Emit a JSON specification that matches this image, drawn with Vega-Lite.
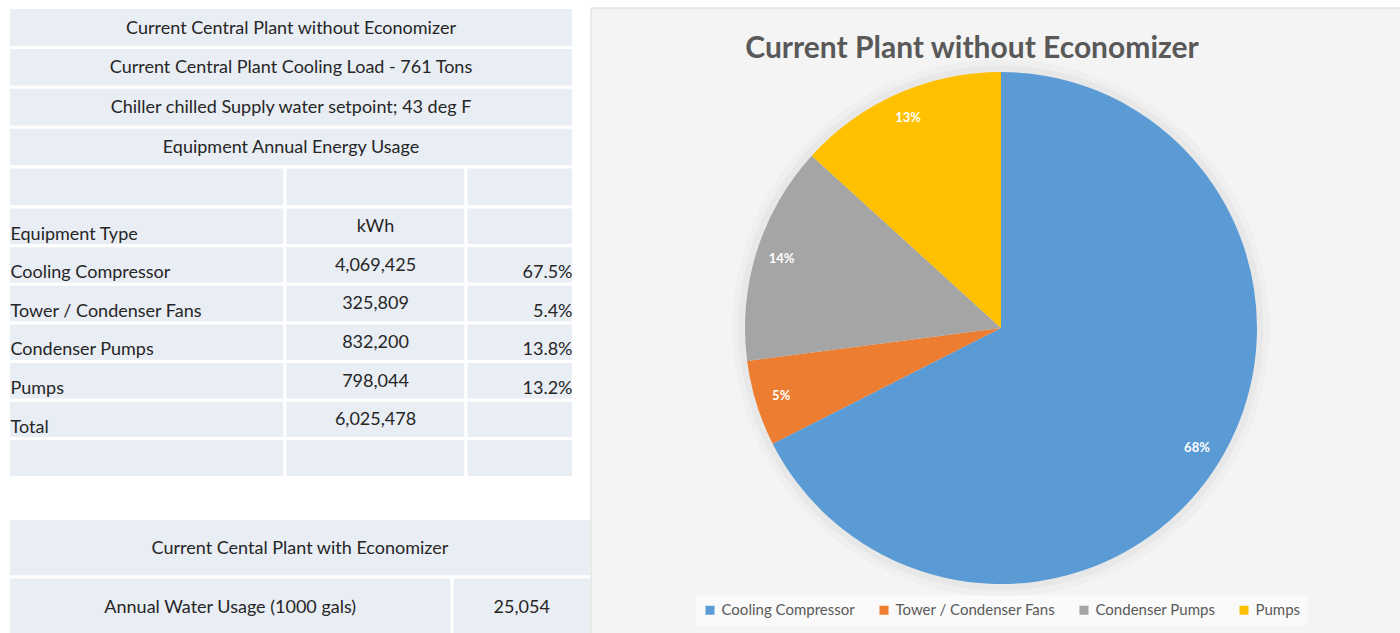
{
  "$schema": "https://vega.github.io/schema/vega-lite/v6.json",
  "padding": {"left": 6.5, "top": 5.5, "right": 0, "bottom": 0},
  "spacing": 17,
  "bounds": "flush",
  "background": "white",
  "config": {
    "view": {"stroke": null},
    "font": "Lato",
    "legend": {"layout": {"bottom": {"anchor": "middle"}}}
  },
  "datasets": {
    "header": [
      {"row": 0, "rowEnd": 1, "text": "Current Central Plant without Economizer"},
      {"row": 1, "rowEnd": 2, "text": "Current Central Plant Cooling Load - 761 Tons"},
      {"row": 2, "rowEnd": 3, "text": "Chiller chilled Supply water setpoint; 43 deg F"},
      {"row": 3, "rowEnd": 4, "text": "Equipment Annual Energy Usage"}
    ],
    "grid": [
      {"row": 4, "rowEnd": 5, "c0": 0, "c1": 1, "text": ""},
      {"row": 4, "rowEnd": 5, "c0": 1, "c1": 2, "text": ""},
      {"row": 4, "rowEnd": 5, "c0": 2, "c1": 3, "text": ""},
      {"row": 5, "rowEnd": 6, "c0": 0, "c1": 1, "text": "Equipment Type"},
      {"row": 5, "rowEnd": 6, "c0": 1, "c1": 2, "text": "kWh"},
      {"row": 5, "rowEnd": 6, "c0": 2, "c1": 3, "text": ""},
      {"row": 6, "rowEnd": 7, "c0": 0, "c1": 1, "text": "Cooling Compressor"},
      {"row": 6, "rowEnd": 7, "c0": 1, "c1": 2, "text": "4,069,425"},
      {"row": 6, "rowEnd": 7, "c0": 2, "c1": 3, "text": "67.5%"},
      {"row": 7, "rowEnd": 8, "c0": 0, "c1": 1, "text": "Tower / Condenser Fans"},
      {"row": 7, "rowEnd": 8, "c0": 1, "c1": 2, "text": "325,809"},
      {"row": 7, "rowEnd": 8, "c0": 2, "c1": 3, "text": "5.4%"},
      {"row": 8, "rowEnd": 9, "c0": 0, "c1": 1, "text": "Condenser Pumps"},
      {"row": 8, "rowEnd": 9, "c0": 1, "c1": 2, "text": "832,200"},
      {"row": 8, "rowEnd": 9, "c0": 2, "c1": 3, "text": "13.8%"},
      {"row": 9, "rowEnd": 10, "c0": 0, "c1": 1, "text": "Pumps"},
      {"row": 9, "rowEnd": 10, "c0": 1, "c1": 2, "text": "798,044"},
      {"row": 9, "rowEnd": 10, "c0": 2, "c1": 3, "text": "13.2%"},
      {"row": 10, "rowEnd": 11, "c0": 0, "c1": 1, "text": "Total"},
      {"row": 10, "rowEnd": 11, "c0": 1, "c1": 2, "text": "6,025,478"},
      {"row": 10, "rowEnd": 11, "c0": 2, "c1": 3, "text": ""},
      {"row": 11, "rowEnd": 12, "c0": 0, "c1": 1, "text": ""},
      {"row": 11, "rowEnd": 12, "c0": 1, "c1": 2, "text": ""},
      {"row": 11, "rowEnd": 12, "c0": 2, "c1": 3, "text": ""}
    ],
    "lowerHeader": [
      {"row": 13, "rowEnd": 14, "text": "Current Cental Plant with Economizer"}
    ],
    "lowerRow": [
      {"row": 14, "rowEnd": 15, "c0": 0, "c1": 1, "text": "Annual Water Usage (1000 gals)"},
      {"row": 14, "rowEnd": 15, "c0": 1, "c1": 2, "text": "25,054"}
    ],
    "equipment": [
      {"idx": 0, "name": "Cooling Compressor", "kwh": 4069425, "share": 0.675},
      {"idx": 1, "name": "Tower / Condenser Fans", "kwh": 325809, "share": 0.054},
      {"idx": 2, "name": "Condenser Pumps", "kwh": 832200, "share": 0.138},
      {"idx": 3, "name": "Pumps", "kwh": 798044, "share": 0.132}
    ]
  },
  "resolve": {"scale": {"color": "independent"}, "legend": {"color": "independent"}},
  "hconcat": [
    {
      "width": 565,
      "height": 628,
      "resolve": {"scale": {"x": "independent"}},
      "layer": [
        {
          "data": {"name": "header"},
          "encoding": {
            "y": {"field": "row", "type": "quantitative", "scale": {"domain": [0, 5, 12, 13, 15], "range": [0, 199.5, 470, 511, 628], "nice": false, "zero": false}, "axis": null}
          },
          "layer": [
            {"mark": {"type": "rect", "fill": "#E9EDF4", "stroke": "white", "strokeWidth": 3},
             "encoding": {"y2": {"field": "rowEnd"}}},
            {"mark": {"type": "text", "baseline": "middle", "align": "center", "dy": 21, "fontSize": 18, "fill": "#262626"},
             "encoding": {"text": {"field": "text"}}}
          ]
        },
        {
          "data": {"name": "grid"},
          "encoding": {
            "y": {"field": "row", "type": "quantitative", "scale": {"domain": [0, 5, 12, 13, 15], "range": [0, 199.5, 470, 511, 628], "nice": false, "zero": false}, "axis": null}
          },
          "layer": [
            {"mark": {"type": "rect", "fill": "#E9EDF4", "stroke": "white", "strokeWidth": 3},
             "encoding": {
               "x": {"field": "c0", "type": "quantitative", "scale": {"domain": [0, 1, 2, 3], "range": [0, 276.5, 457.5, 565], "nice": false, "zero": false}, "axis": null},
               "x2": {"field": "c1"},
               "y2": {"field": "rowEnd"}}},
            {"transform": [{"filter": "datum.c0 == 0"}],
             "mark": {"type": "text", "baseline": "middle", "align": "left", "dx": 2, "dy": 27.5, "fontSize": 18, "fill": "#262626"},
             "encoding": {
               "x": {"field": "c0", "type": "quantitative"},
               "text": {"field": "text"}}},
            {"transform": [{"filter": "datum.c0 == 1"}],
             "mark": {"type": "text", "baseline": "middle", "align": "center", "dy": 20, "fontSize": 18, "fill": "#262626"},
             "encoding": {
               "x": {"datum": 1.5, "type": "quantitative"},
               "text": {"field": "text"}}},
            {"transform": [{"filter": "datum.c0 == 2"}],
             "mark": {"type": "text", "baseline": "middle", "align": "right", "dx": -1, "dy": 27.5, "fontSize": 18, "fill": "#262626"},
             "encoding": {
               "x": {"field": "c1", "type": "quantitative"},
               "text": {"field": "text"}}}
          ]
        },
        {
          "data": {"name": "lowerHeader"},
          "encoding": {
            "y": {"field": "row", "type": "quantitative", "scale": {"domain": [0, 5, 12, 13, 15], "range": [0, 199.5, 470, 511, 628], "nice": false, "zero": false}, "axis": null}
          },
          "layer": [
            {"mark": {"type": "rect", "fill": "#E9EDF4", "stroke": "white", "strokeWidth": 3},
             "encoding": {
               "x": {"datum": 0, "type": "quantitative", "scale": {"domain": [0, 1], "range": [0, 583], "nice": false, "zero": false}, "axis": null},
               "x2": {"datum": 1},
               "y2": {"field": "rowEnd"}}},
            {"mark": {"type": "text", "baseline": "middle", "align": "center", "dy": 30, "fontSize": 18, "fill": "#262626"},
             "encoding": {
               "x": {"datum": 0.5, "type": "quantitative"},
               "text": {"field": "text"}}}
          ]
        },
        {
          "data": {"name": "lowerRow"},
          "encoding": {
            "y": {"field": "row", "type": "quantitative", "scale": {"domain": [0, 5, 12, 13, 15], "range": [0, 199.5, 470, 511, 628], "nice": false, "zero": false}, "axis": null}
          },
          "layer": [
            {"mark": {"type": "rect", "fill": "#E9EDF4", "stroke": "white", "strokeWidth": 3},
             "encoding": {
               "x": {"field": "c0", "type": "quantitative", "scale": {"domain": [0, 1, 2], "range": [0, 443.5, 583], "nice": false, "zero": false}, "axis": null},
               "x2": {"field": "c1"},
               "y2": {"field": "rowEnd"}}},
            {"transform": [{"filter": "datum.c0 == 0"}],
             "mark": {"type": "text", "baseline": "middle", "align": "center", "dy": 30.5, "fontSize": 18, "fill": "#262626"},
             "encoding": {
               "x": {"datum": 0.5, "type": "quantitative"},
               "text": {"field": "text"}}},
            {"transform": [{"filter": "datum.c0 == 1"}],
             "mark": {"type": "text", "baseline": "middle", "align": "center", "dy": 30.5, "fontSize": 18, "fill": "#262626"},
             "encoding": {
               "x": {"datum": 1.5, "type": "quantitative"},
               "text": {"field": "text"}}}
          ]
        }
      ]
    },
    {
      "width": 821,
      "height": 641,
      "view": {"fill": "#f4f4f4", "stroke": "#d9d9d9"},
      "title": {"text": "Current Plant without Economizer", "fontSize": 30, "fontWeight": "bold", "color": "#595959", "font": "Lato", "anchor": "middle", "offset": -56, "dx": -29},
      "data": {"name": "equipment"},
      "encoding": {
        "theta": {"field": "kwh", "type": "quantitative", "stack": true},
        "order": {"field": "idx", "type": "quantitative"}
      },
      "layer": [
        {"mark": {"type": "arc", "outerRadius": 268, "fill": "#efefef", "stroke": "#efefef"}},
        {"mark": {"type": "arc", "outerRadius": 262, "fill": "#e8e8e8", "stroke": "#e8e8e8"}},
        {"mark": {"type": "arc", "outerRadius": 256},
         "encoding": {
           "color": {"field": "name", "type": "nominal",
             "scale": {"domain": ["Cooling Compressor", "Tower / Condenser Fans", "Condenser Pumps", "Pumps"], "range": ["#5B9BD5", "#ED7D31", "#A5A5A5", "#FFC000"]},
             "legend": {"title": null, "orient": "bottom", "direction": "horizontal", "offset": -53, "symbolType": "square", "symbolSize": 81, "symbolStrokeWidth": 0, "labelFontSize": 15, "labelColor": "#595959", "labelFont": "Lato", "columnPadding": 21, "labelOffset": 4, "fillColor": "#fafafa", "padding": 7}}}},
        {"mark": {"type": "text", "radius": 230, "fill": "white", "fontWeight": "bold", "fontSize": 13},
         "encoding": {"text": {"field": "share", "type": "quantitative", "format": ".0%"}}}
      ]
    }
  ]
}
